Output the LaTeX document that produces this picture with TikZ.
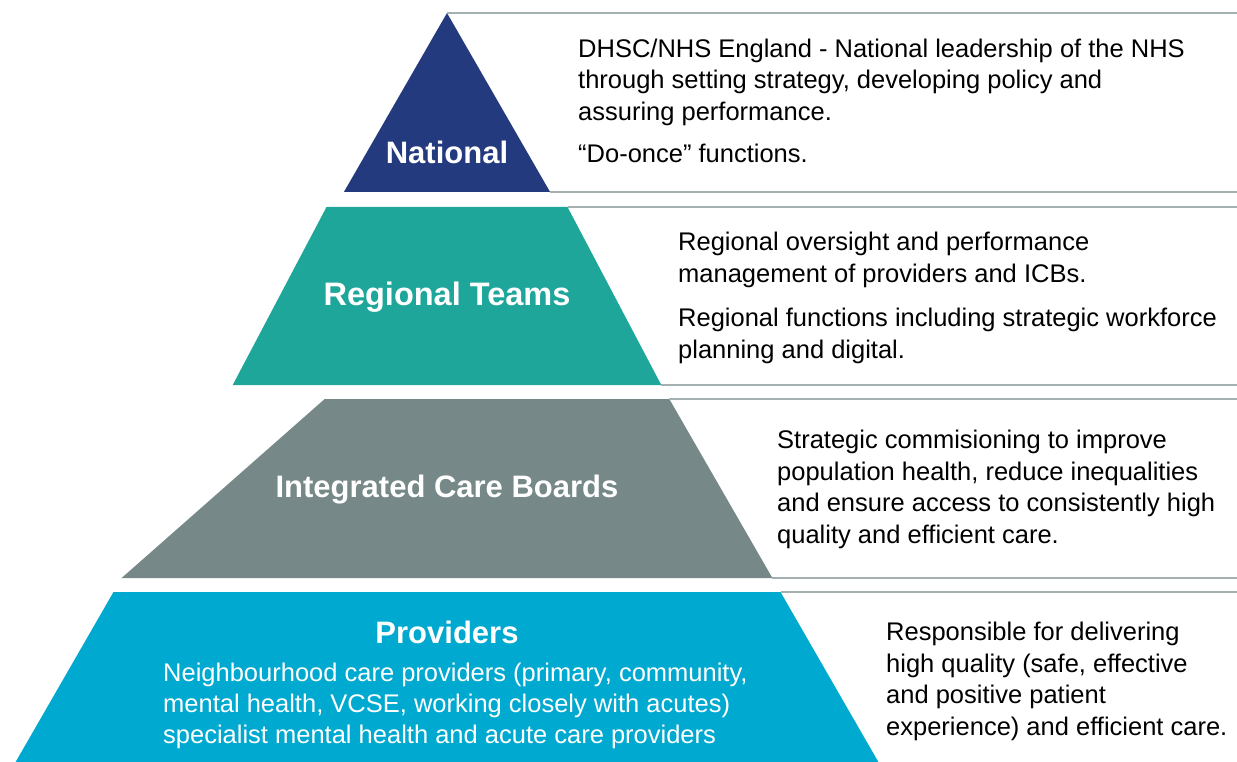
\documentclass[tikz,border=0pt]{standalone}
\usepackage{fontspec}
\setmainfont{Liberation Sans}
\definecolor{natl}{HTML}{243A7F}
\definecolor{regl}{HTML}{1EA69A}
\definecolor{icbc}{HTML}{768888}
\definecolor{prov}{HTML}{00A9CF}
\definecolor{linegray}{HTML}{A5B1B1}
\begin{document}
\begin{tikzpicture}[x=1pt,y=-1pt,
  sep/.style={draw=linegray,line width=1.6pt},
  body/.style={font=\fontsize{25.5}{32}\selectfont, anchor=base west, inner sep=0pt, text=black},
  wbody/.style={body, text=white},
  lab/.style={font=\fontsize{31}{36}\selectfont\bfseries, text=white, anchor=base, inner sep=0pt}]
\useasboundingbox (0,0) rectangle (1237,762);
% tiers (slope 0.576 from apex 447,13)
\fill[natl] (447,13) -- (550.1,192) -- (343.9,192) -- cycle;
\fill[regl] (326.5,207) -- (567.5,207) -- (661.3,385) -- (232.7,385) -- cycle;
\fill[icbc] (324.7,399) -- (669.3,399) -- (772.4,578) -- (121.6,578) -- cycle;
\fill[prov] (113.5,592) -- (780.5,592) -- (878.4,762) -- (15.6,762) -- cycle;
% separator lines
\draw[sep] (447,13) -- (1237,13);
\draw[sep] (550.1,192) -- (1237,192);
\draw[sep] (567.5,207) -- (1237,207);
\draw[sep] (661.3,385) -- (1237,385);
\draw[sep] (669.3,399) -- (1237,399);
\draw[sep] (772.4,578) -- (1237,578);
\draw[sep] (780.5,592) -- (1237,592);
% labels
\node[lab] (lnat) at (447,164) {National};
\node[lab, font=\fontsize{32.5}{36}\selectfont\bfseries] (lreg) at (447,305) {Regional Teams};
\node[lab] (licb) at (447,497) {Integrated Care Boards};
\node[lab] (lprov) at (447,643) {Providers};
% national text
\node[body] (n1) at (578,58) {DHSC/NHS England - National leadership of the NHS};
\node[body] (n2) at (578,89) {through setting strategy, developing policy and};
\node[body] (n3) at (578,121) {assuring performance.};
\node[body] (n4) at (578,163) {“Do-once” functions.};
% regional text
\node[body] (r1) at (678,251) {Regional oversight and performance};
\node[body] (r2) at (678,282) {management of providers and ICBs.};
\node[body] (r3) at (678,326) {Regional functions including strategic workforce};
\node[body] (r4) at (678,358) {planning and digital.};
% ICB text
\node[body] (i1) at (777,448) {Strategic commisioning to improve};
\node[body] (i2) at (777,480) {population health, reduce inequalities};
\node[body] (i3) at (777,511) {and ensure access to consistently high};
\node[body] (i4) at (777,543) {quality and efficient care.};
% providers right text
\node[body] (p1) at (886,640) {Responsible for delivering};
\node[body] (p2) at (886,672) {high quality (safe, effective};
\node[body] (p3) at (886,703) {and positive patient};
\node[body] (p4) at (886,735) {experience) and efficient care.};
% providers inner text
\node[wbody] (q1) at (163,681) {Neighbourhood care providers (primary, community,};
\node[wbody] (q2) at (163,712) {mental health, VCSE, working closely with acutes)};
\node[wbody] (q3) at (163,743) {specialist mental health and acute care providers};
\end{tikzpicture}
\end{document}
